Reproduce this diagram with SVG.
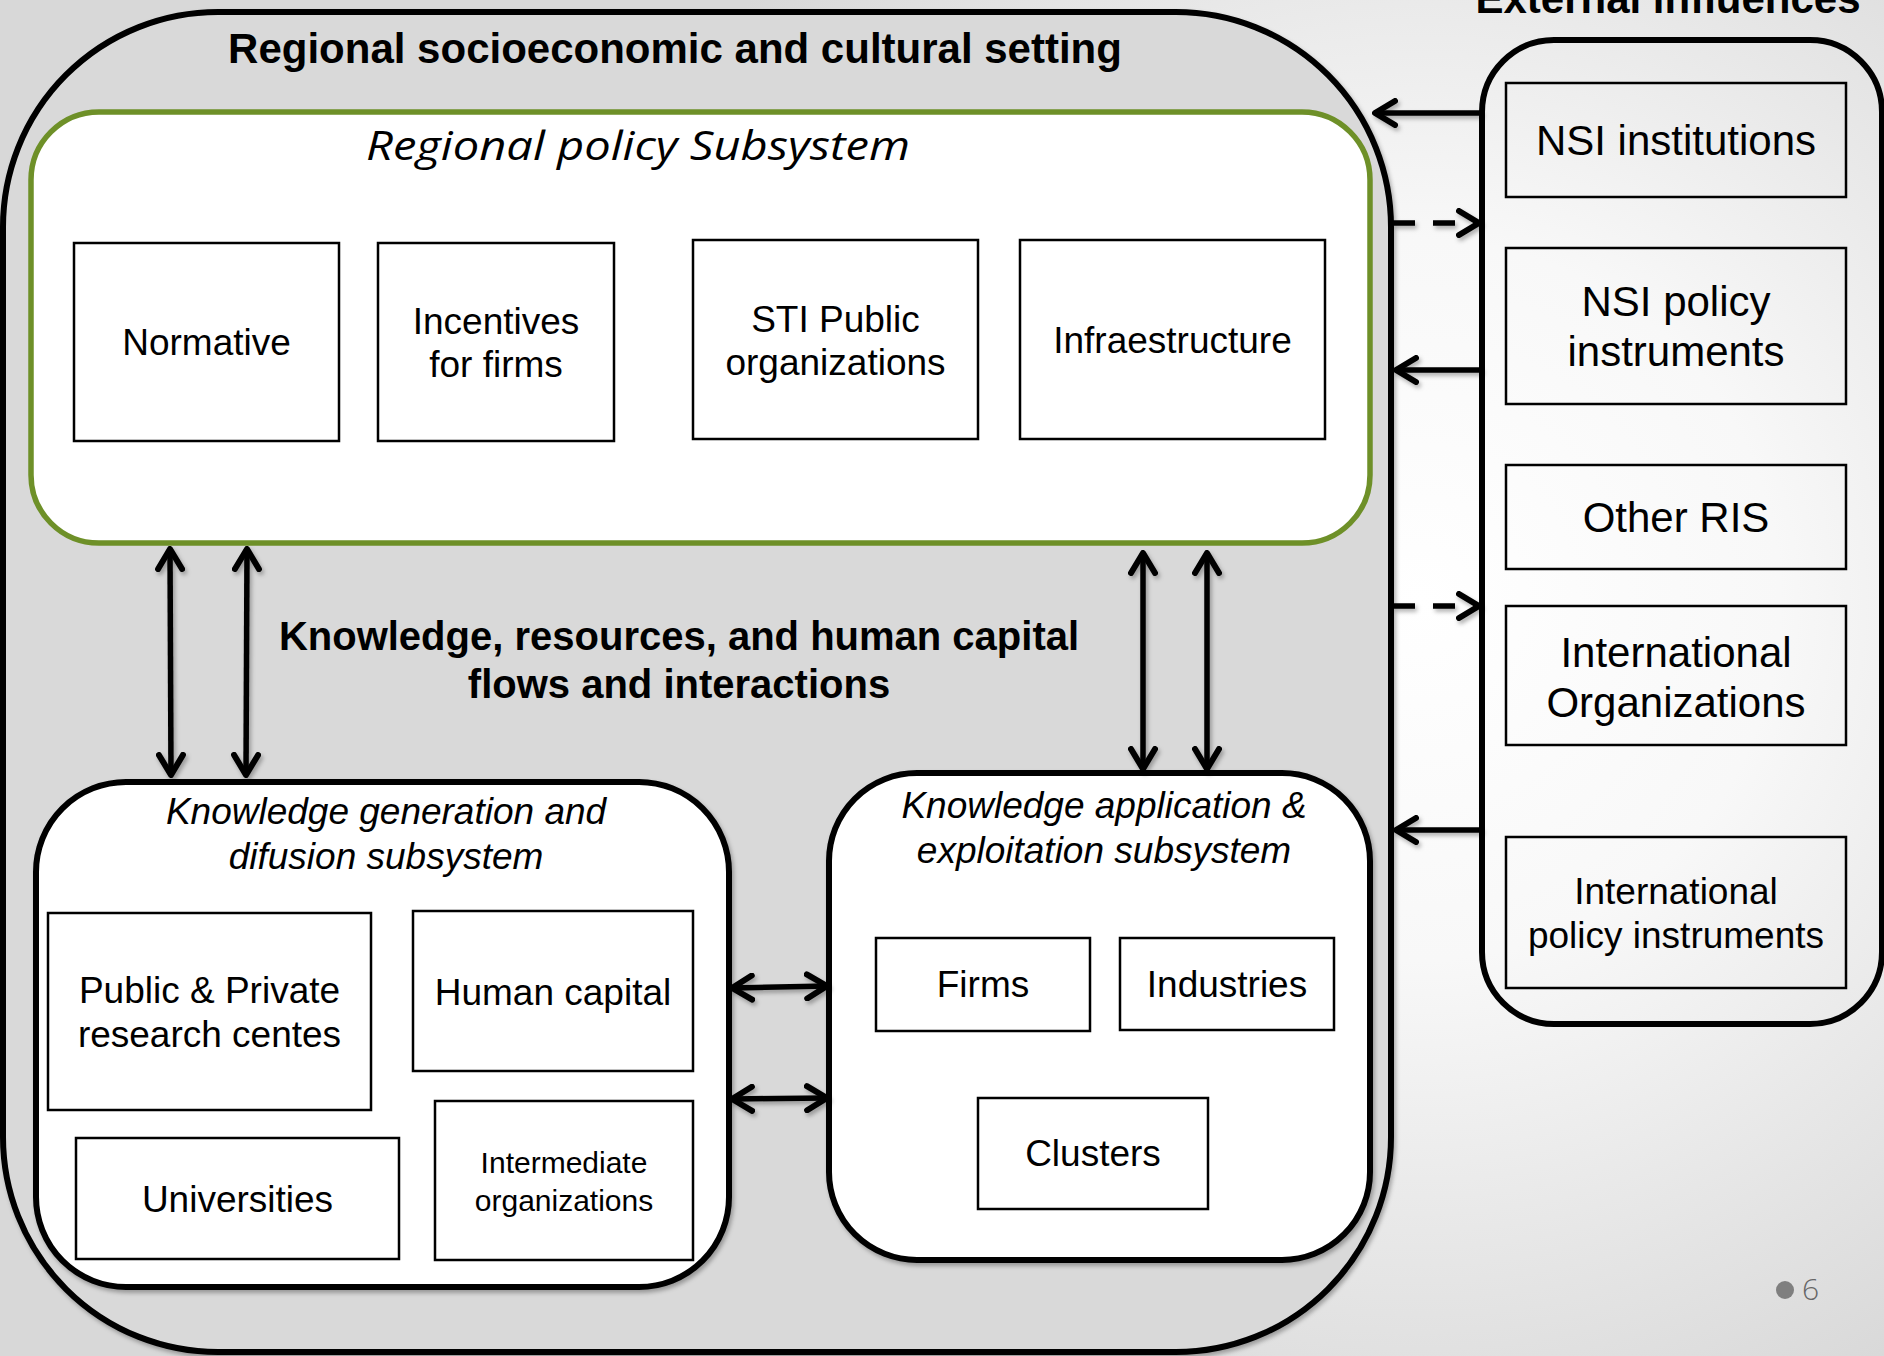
<svg xmlns="http://www.w3.org/2000/svg" width="1884" height="1356" viewBox="0 0 1884 1356">
<defs>
<radialGradient id="bg" gradientUnits="userSpaceOnUse" cx="1420" cy="600" r="900">
<stop offset="0" stop-color="#ffffff"/>
<stop offset="0.4" stop-color="#f8f8f8"/>
<stop offset="1" stop-color="#d8d8d8"/>
</radialGradient>
<filter id="sh" x="-10%" y="-10%" width="120%" height="120%">
<feDropShadow dx="2" dy="3" stdDeviation="2" flood-color="#000" flood-opacity="0.3"/>
</filter>
<marker id="ah" viewBox="0 0 26 30" refX="23" refY="15" markerWidth="26" markerHeight="30" markerUnits="userSpaceOnUse" orient="auto-start-reverse">
<path d="M3,3 L23,15 L3,27" fill="none" stroke="#000" stroke-width="6" stroke-linecap="round" stroke-linejoin="round"/>
</marker>
<style>
.lbl{font-family:"Liberation Sans",Arial,sans-serif;fill:#000;text-anchor:middle}
.b{font-weight:bold}
.it{font-style:italic}
.box{fill:#fff;stroke:#000;stroke-width:2.5}
.ebox{fill:none;stroke:#000;stroke-width:2.5}
.cont{fill:#fff;stroke:#000;stroke-width:6}
.conn{fill:none;stroke:#000;stroke-width:5.5}
.dash{stroke-dasharray:22 18}
</style>
</defs>
<rect x="0" y="0" width="1884" height="1356" fill="url(#bg)"/>

<g id="regional-setting">
<rect x="3" y="12" width="1388" height="1340" rx="215" ry="215" fill="#d9d9d9" stroke="#000" stroke-width="6" filter="url(#sh)"/>
<text class="lbl b" x="675" y="63" font-size="42">Regional socioeconomic and cultural setting</text>
</g>

<g id="regional-policy-subsystem">
<rect x="31" y="112" width="1339" height="431" rx="68" ry="68" fill="#fff" stroke="#6e9028" stroke-width="5.5"/>
<text x="638" y="160" font-family="'Open Sans','Liberation Sans',sans-serif" font-style="italic" font-size="40" fill="#000" text-anchor="middle" textLength="544" lengthAdjust="spacingAndGlyphs">Regional policy Subsystem</text>
</g>
<g id="normative"><rect class="box" x="74" y="243" width="265" height="198"/><text class="lbl" x="206.5" y="355" font-size="37">Normative</text></g>
<g id="incentives"><rect class="box" x="378" y="243" width="236" height="198"/><text class="lbl" x="496" y="334" font-size="37">Incentives</text><text class="lbl" x="496" y="377" font-size="37">for firms</text></g>
<g id="sti-public"><rect class="box" x="693" y="240" width="285" height="199"/><text class="lbl" x="835.5" y="332" font-size="37">STI Public</text><text class="lbl" x="835.5" y="375" font-size="37">organizations</text></g>
<g id="infraestructure"><rect class="box" x="1020" y="240" width="305" height="199"/><text class="lbl" x="1172.5" y="353" font-size="37">Infraestructure</text></g>

<text class="lbl b" x="679" y="650" font-size="40">Knowledge, resources, and human capital</text>
<text class="lbl b" x="679" y="698" font-size="40">flows and interactions</text>

<g id="knowledge-generation">
<rect class="cont" x="36" y="782" width="693" height="505" rx="90" ry="90" filter="url(#sh)"/>
<text class="lbl it" x="386" y="824" font-size="37">Knowledge generation and</text>
<text class="lbl it" x="386" y="869" font-size="37">difusion subsystem</text>
</g>
<g id="research-centres"><rect class="box" x="48" y="913" width="323" height="197"/><text class="lbl" x="209.5" y="1003" font-size="37">Public &amp; Private</text><text class="lbl" x="209.5" y="1047" font-size="37">research centes</text></g>
<g id="human-capital"><rect class="box" x="413" y="911" width="280" height="160"/><text class="lbl" x="553" y="1005" font-size="37">Human capital</text></g>
<g id="universities"><rect class="box" x="76" y="1138" width="323" height="121"/><text class="lbl" x="237.5" y="1212" font-size="37">Universities</text></g>
<g id="intermediate"><rect class="box" x="435" y="1101" width="258" height="159"/><text class="lbl" x="564" y="1173" font-size="30">Intermediate</text><text class="lbl" x="564" y="1211" font-size="30">organizations</text></g>

<g id="knowledge-application">
<rect class="cont" x="829" y="773" width="541" height="487" rx="88" ry="88" filter="url(#sh)"/>
<text class="lbl it" x="1104" y="818" font-size="37">Knowledge application &amp;</text>
<text class="lbl it" x="1104" y="863" font-size="37">exploitation subsystem</text>
</g>
<g id="firms"><rect class="box" x="876" y="938" width="214" height="93"/><text class="lbl" x="983" y="997" font-size="37">Firms</text></g>
<g id="industries"><rect class="box" x="1120" y="938" width="214" height="92"/><text class="lbl" x="1227" y="997" font-size="37">Industries</text></g>
<g id="clusters"><rect class="box" x="978" y="1098" width="230" height="111"/><text class="lbl" x="1093" y="1166" font-size="37">Clusters</text></g>

<g id="external-influences">
<text class="lbl b" x="1668" y="13" font-size="42">External influences</text>
<rect x="1482" y="40" width="400" height="984" rx="72" ry="72" fill="none" stroke="#000" stroke-width="6"/>
</g>
<g id="nsi-institutions"><rect class="ebox" x="1506" y="83" width="340" height="114"/><text class="lbl" x="1676" y="155" font-size="42">NSI institutions</text></g>
<g id="nsi-policy"><rect class="ebox" x="1506" y="248" width="340" height="156"/><text class="lbl" x="1676" y="316" font-size="42">NSI policy</text><text class="lbl" x="1676" y="366" font-size="42">instruments</text></g>
<g id="other-ris"><rect class="ebox" x="1506" y="465" width="340" height="104"/><text class="lbl" x="1676" y="532" font-size="42">Other RIS</text></g>
<g id="intl-organizations"><rect class="ebox" x="1506" y="606" width="340" height="139"/><text class="lbl" x="1676" y="667" font-size="42">International</text><text class="lbl" x="1676" y="717" font-size="42">Organizations</text></g>
<g id="intl-policy"><rect class="ebox" x="1506" y="837" width="340" height="151"/><text class="lbl" x="1676" y="904" font-size="37">International</text><text class="lbl" x="1676" y="948" font-size="37">policy instruments</text></g>

<g id="connectors" filter="url(#sh)">
<line class="conn" x1="170" y1="549" x2="171" y2="775" marker-start="url(#ah)" marker-end="url(#ah)"/>
<line class="conn" x1="247" y1="549" x2="246" y2="775" marker-start="url(#ah)" marker-end="url(#ah)"/>
<line class="conn" x1="1143" y1="553" x2="1143" y2="769" marker-start="url(#ah)" marker-end="url(#ah)"/>
<line class="conn" x1="1207" y1="553" x2="1207" y2="769" marker-start="url(#ah)" marker-end="url(#ah)"/>
<line class="conn" x1="732" y1="988" x2="827" y2="986" marker-start="url(#ah)" marker-end="url(#ah)"/>
<line class="conn" x1="732" y1="1099" x2="827" y2="1098" marker-start="url(#ah)" marker-end="url(#ah)"/>
<line class="conn" x1="1482" y1="113" x2="1375" y2="113" marker-end="url(#ah)"/>
<line class="conn" x1="1482" y1="370" x2="1396" y2="370" marker-end="url(#ah)"/>
<line class="conn" x1="1482" y1="830" x2="1396" y2="830" marker-end="url(#ah)"/>
<line class="conn dash" x1="1393" y1="223" x2="1479" y2="223" marker-end="url(#ah)"/>
<line class="conn dash" x1="1393" y1="606" x2="1479" y2="606" marker-end="url(#ah)"/>
</g>

<circle cx="1785" cy="1290" r="9" fill="#7f7f7f"/>
<text x="1802" y="1300" font-family="'Open Sans','Liberation Sans',sans-serif" font-weight="300" font-size="30" fill="#666">6</text>
</svg>
